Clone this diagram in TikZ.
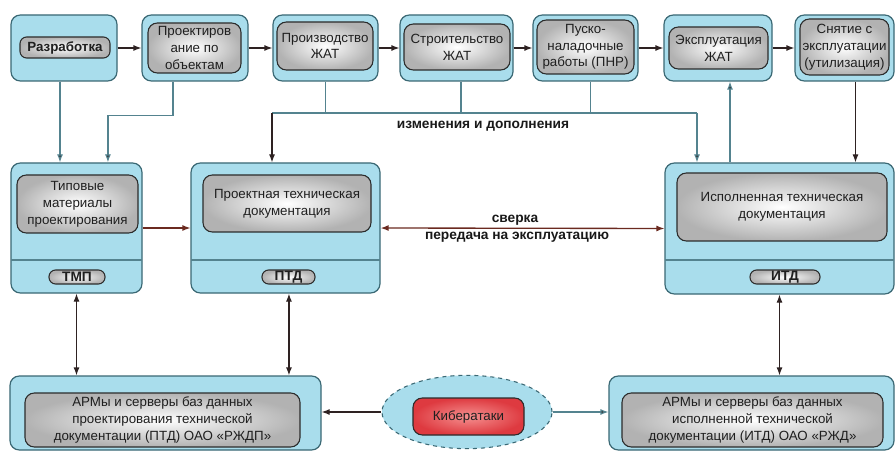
\documentclass[tikz,border=0pt]{standalone}
\usepackage{fontspec}
\setmainfont{Liberation Sans}
\usetikzlibrary{arrows.meta,fit,shapes.geometric,calc}
\definecolor{boxblue}{HTML}{A9DDEC}
\definecolor{boxedge}{HTML}{3A6874}
\definecolor{inneredge}{HTML}{2B2B2B}
\definecolor{tealline}{HTML}{54838F}
\definecolor{darkline}{HTML}{2E2222}
\definecolor{brownline}{HTML}{6B2A20}
\definecolor{redin}{HTML}{F59090}
\definecolor{redout}{HTML}{DE3A40}
\begin{document}
\begin{tikzpicture}[x=0.75pt,y=-0.75pt,
 font=\fontsize{10}{12.6}\selectfont,
 bluebox/.style={draw=boxedge, line width=0.9pt, fill=boxblue, rounded corners=7pt, inner sep=0pt},
 graybox/.style={draw=inneredge, line width=0.8pt, rounded corners=7pt, inner color=white, outer color=black!30, inner sep=0pt},
 pillbox/.style={draw=inneredge, line width=0.8pt, rounded corners=5pt, inner color=white, outer color=black!30, inner sep=0pt},
 txt/.style={align=center, text=black!88, inner sep=0pt, anchor=center},
 pilltxt/.style={text=black!88, inner sep=0pt, anchor=center, font=\fontsize{10.3}{12}\selectfont\bfseries},
 arr/.style={draw=darkline, line width=0.9pt, -{Latex[length=6pt,width=4.5pt]}},
 brarr/.style={draw=brownline, line width=1pt, -{Latex[length=6pt,width=4.5pt]}},
 dblarr/.style={draw=darkline, line width=0.9pt, {Latex[length=6pt,width=4.5pt]}-{Latex[length=6pt,width=4.5pt]}},
 tline/.style={draw=tealline, line width=0.9pt},
 tarr/.style={draw=tealline, line width=0.9pt, -{Latex[length=6pt,width=4.5pt,fill=darkline]}},
 lbl/.style={font=\fontsize{10.3}{12}\selectfont\bfseries, text=black!90, inner sep=0pt},
 divline/.style={draw=tealline, line width=0.8pt}
]
\useasboundingbox (0,0) rectangle (895,452);
\fill[white] (0,0) rectangle (895,452);

% ---- top row ----
\node[bluebox, fit={(11,15) (117,81)}] (o1) {};
\node[pillbox, fit={(20,37) (110,58)}] (i1) {};
\node[pilltxt, font=\fontsize{10}{12}\selectfont\bfseries] (t1) at (i1.center) {Разработка};
\node[bluebox, fit={(142,15) (248,81)}] (o2) {};
\node[graybox, fit={(148,23) (241,73)}] (i2) {};
\node[txt] (t2) at (i2.center) {Проектиров\\ание по\\объектам};
\node[bluebox, fit={(273,15) (378,81)}] (o3) {};
\node[graybox, fit={(277,22) (373,70)}] (i3) {};
\node[txt] (t3) at (i3.center) {Производство\\ЖАТ};
\node[bluebox, fit={(400,15) (513,81)}] (o4) {};
\node[graybox, fit={(404,24) (510,70)}] (i4) {};
\node[txt] (t4) at (i4.center) {Строительство\\ЖАТ};
\node[bluebox, fit={(533,15) (638,81)}] (o5) {};
\node[graybox, fit={(537,20) (634,74)}] (i5) {};
\node[txt] (t5) at (i5.center) {Пуско-\\наладочные\\работы (ПНР)};
\node[bluebox, fit={(664,15) (772,81)}] (o6) {};
\node[graybox, fit={(669,27) (768,69)}] (i6) {};
\node[txt] (t6) at (i6.center) {Эксплуатация\\ЖАТ};
\node[bluebox, fit={(795,15) (894,81)}] (o7) {};
\node[graybox, fit={(800,19) (889,75)}] (i7) {};
\node[txt] (t7) at (i7.center) {Снятие с\\эксплуатации\\(утилизация)};

\draw[arr] (o1.east) -- (o2.west);
\draw[arr] (o2.east) -- (o3.west);
\draw[arr] (o3.east) -- (o4.west);
\draw[arr] (o4.east) -- (o5.west);
\draw[arr] (o5.east) -- (o6.west);
\draw[arr] (o6.east) -- (o7.west);

% ---- middle row ----
\node[bluebox, fit={(11,163) (142,293)}] (tmp) {};
\draw[divline] (11,260) -- (142,260);
\node[graybox, fit={(17,175) (138,233)}] (tmpi) {};
\node[txt] (tmpt) at (tmpi.center) {Типовые\\материалы\\проектирования};
\node[pillbox, fit={(49,270) (105,284)}] (tmpp) {};
\node[pilltxt] (tmppt) at (tmpp.center) {ТМП};

\node[bluebox, fit={(191,163) (380,293)}] (ptd) {};
\draw[divline] (191,260) -- (380,260);
\node[graybox, fit={(203,175) (371,232)}] (ptdi) {};
\node[txt] (ptdt) at (ptdi.center) {Проектная техническая\\документация};
\node[pillbox, fit={(262,270) (315,284)}] (ptdp) {};
\node[pilltxt] (ptdpt) at (ptdp.center) {ПТД};

\node[bluebox, fit={(665,163) (894,294)}] (itd) {};
\draw[divline] (665,260) -- (894,260);
\node[graybox, fit={(677,173) (887,241)}] (itdi) {};
\node[txt] (itdt) at (itdi.center) {Исполненная техническая\\документация};
\node[pillbox, fit={(750,270) (820,284)}] (itdp) {};
\node[pilltxt] (itdpt) at (itdp.center) {ИТД};

% ---- bottom row ----
\node[bluebox, fit={(10,376) (321,450)}] (apml) {};
\node[graybox, fit={(25,393) (300,447)}] (apmli) {};
\node[txt] (apmlt) at (apmli.center) {АРМы и серверы баз данных\\проектирования технической\\документации (ПТД) ОАО «РЖДП»};
\node[bluebox, fit={(609,376) (894,450)}] (apmr) {};
\node[graybox, fit={(622,393) (883,447)}] (apmri) {};
\node[txt] (apmrt) at (apmri.center) {АРМы и серверы баз данных\\исполненной технической\\документации (ИТД) ОАО «РЖД»};

\node[ellipse, draw=boxedge, dashed, line width=0.8pt, fill=boxblue, minimum width=127.5pt, minimum height=55pt, inner sep=0pt] (cyb) at (467,412) {};
\node[draw=inneredge, line width=0.8pt, rounded corners=7pt, inner color=redin, outer color=redout, inner sep=0pt, fit={(413,398) (524,435)}] (cybi) {};
\node[txt] (cybt) at (cybi.center) {Кибератаки};

% ---- connectors ----
\draw[tarr] ([xshift=-3pt]o1.south) -- ([xshift=-3pt]o1.south |- tmp.north);
\draw[tarr] ([xshift=-16.5pt]o2.south) -- ++(0,34) -| ([xshift=23.6pt]tmp.north);

\coordinate (busL) at (272,113);
\coordinate (busR) at (697,113);
\draw[tline] (busL) -- (busR);
\draw[tline] (o3.south) |- (busL);
\draw[tline] ([xshift=3.4pt]o4.south) |- (busL);
\draw[tline] ([xshift=4pt]o5.south) |- (busR);
\draw[arr] (busL) -- (busL |- ptd.north);
\draw[tarr] (busR) -- (busR |- itd.north);
\node[lbl] (chg) at (483,126) {изменения и дополнения};

\draw[tarr] ([xshift=9pt]o6.south |- itd.north) -- ([xshift=9pt]o6.south);
\draw[arr] ([xshift=8.25pt]o7.south) -- ([xshift=8.25pt]o7.south |- itd.north);

\draw[brarr] (tmp.east) -- (ptd.west);
\draw[brownline, line width=1pt, {Latex[length=6pt,width=4.5pt]}-{Latex[length=6pt,width=4.5pt]}] (ptd.east) -- (itd.west);
\node[lbl] (sv) at (515,220) {сверка};
\node[lbl] (pe) at (517,237) {передача на эксплуатацию};

\draw[dblarr] (tmp.south) -- (tmp.south |- apml.north);
\draw[dblarr] ([xshift=2.6pt]ptd.south) -- ([xshift=2.6pt]ptd.south |- apml.north);
\draw[dblarr] (itd.south) -- (itd.south |- apmr.north);

\draw[arr] (cyb.west) -- (cyb.west -| apml.east);
\draw[tarr] (cyb.east) -- (cyb.east -| apmr.west);
\end{tikzpicture}
\end{document}
